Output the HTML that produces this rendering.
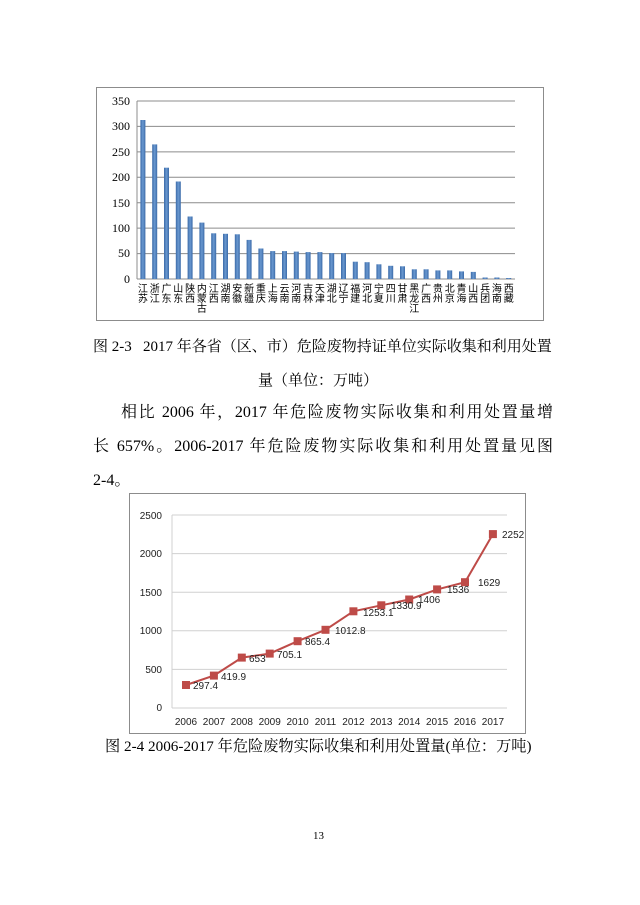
<!DOCTYPE html>
<html><head><meta charset="utf-8"><style>
body{margin:0;background:#fff;width:640px;height:905px;position:relative;overflow:hidden;font-family:"Liberation Serif","Noto Serif CJK SC","Noto Sans CJK SC",serif;color:#000}
.l{position:absolute;font-size:15px;white-space:nowrap;line-height:20px}
.j{text-align:justify;text-align-last:justify;white-space:normal;overflow:visible}
svg{position:absolute;left:0;top:0}
</style></head><body>
<svg width="640" height="905" xmlns="http://www.w3.org/2000/svg">
<defs><linearGradient id="g" x1="0" x2="1"><stop offset="0" stop-color="#3a6aa8"/><stop offset="0.5" stop-color="#6a98d0"/><stop offset="1" stop-color="#3a6aa8"/></linearGradient></defs>
<rect x="96.5" y="87.5" width="447" height="233" fill="#fff" stroke="#8c8c8c"/>
<g stroke="#8c8c8c" stroke-width="1">
<line x1="137" y1="101" x2="515" y2="101"/><line x1="137" y1="126.4" x2="515" y2="126.4"/><line x1="137" y1="151.9" x2="515" y2="151.9"/><line x1="137" y1="177.3" x2="515" y2="177.3"/><line x1="137" y1="202.7" x2="515" y2="202.7"/><line x1="137" y1="228.1" x2="515" y2="228.1"/><line x1="137" y1="253.6" x2="515" y2="253.6"/><line x1="137" y1="279" x2="515" y2="279"/>
<line x1="137" y1="101" x2="137" y2="279"/>
</g>
<g font-family="Liberation Serif" font-size="12" text-anchor="end" fill="#000">
<text x="130" y="105">350</text><text x="130" y="130">300</text><text x="130" y="156">250</text><text x="130" y="181">200</text><text x="130" y="207">150</text><text x="130" y="232">100</text><text x="130" y="257">50</text><text x="130" y="283">0</text>
</g>
<g fill="url(#g)">
<rect x="140.4" y="120" width="5" height="159"/><rect x="152.2" y="144.4" width="5" height="134.6"/><rect x="164" y="167.7" width="5" height="111.3"/><rect x="175.8" y="181.5" width="5" height="97.5"/><rect x="187.6" y="216.5" width="5" height="62.5"/><rect x="199.4" y="222.6" width="5" height="56.4"/><rect x="211.2" y="233.3" width="5" height="45.7"/><rect x="223" y="233.8" width="5" height="45.2"/><rect x="234.8" y="234.3" width="5" height="44.7"/><rect x="246.6" y="239.9" width="5" height="39.1"/><rect x="258.4" y="248.5" width="5" height="30.5"/><rect x="270.2" y="251.1" width="5" height="27.9"/><rect x="282" y="251.1" width="5" height="27.9"/><rect x="293.8" y="251.6" width="5" height="27.4"/><rect x="305.6" y="252.1" width="5" height="26.9"/><rect x="317.4" y="252.1" width="5" height="26.9"/><rect x="329.2" y="253.1" width="5" height="25.9"/><rect x="341" y="253.1" width="5" height="25.9"/><rect x="352.8" y="261.7" width="5" height="17.3"/><rect x="364.6" y="262.2" width="5" height="16.8"/><rect x="376.4" y="264.3" width="5" height="14.7"/><rect x="388.2" y="265.8" width="5" height="13.2"/><rect x="400" y="266.3" width="5" height="12.7"/><rect x="411.8" y="269.3" width="5" height="9.7"/><rect x="423.6" y="269.3" width="5" height="9.7"/><rect x="435.4" y="270.4" width="5" height="8.6"/><rect x="447.2" y="270.4" width="5" height="8.6"/><rect x="459" y="271.4" width="5" height="7.6"/><rect x="470.8" y="271.9" width="5" height="7.1"/><rect x="482.6" y="277.5" width="5" height="1.5"/><rect x="494.4" y="277.5" width="5" height="1.5"/><rect x="506.2" y="278" width="5" height="1"/>
</g>
<g font-family="Noto Sans CJK SC, sans-serif" font-size="10" text-anchor="middle" fill="#000">
<text x="142.9" y="292">江<tspan x="142.9" dy="10">苏</tspan></text>
<text x="154.7" y="292">浙<tspan x="154.7" dy="10">江</tspan></text>
<text x="166.5" y="292">广<tspan x="166.5" dy="10">东</tspan></text>
<text x="178.3" y="292">山<tspan x="178.3" dy="10">东</tspan></text>
<text x="190.1" y="292">陕<tspan x="190.1" dy="10">西</tspan></text>
<text x="201.9" y="292">内<tspan x="201.9" dy="10">蒙</tspan><tspan x="201.9" dy="10">古</tspan></text>
<text x="213.7" y="292">江<tspan x="213.7" dy="10">西</tspan></text>
<text x="225.5" y="292">湖<tspan x="225.5" dy="10">南</tspan></text>
<text x="237.3" y="292">安<tspan x="237.3" dy="10">徽</tspan></text>
<text x="249.1" y="292">新<tspan x="249.1" dy="10">疆</tspan></text>
<text x="260.9" y="292">重<tspan x="260.9" dy="10">庆</tspan></text>
<text x="272.7" y="292">上<tspan x="272.7" dy="10">海</tspan></text>
<text x="284.5" y="292">云<tspan x="284.5" dy="10">南</tspan></text>
<text x="296.3" y="292">河<tspan x="296.3" dy="10">南</tspan></text>
<text x="308.1" y="292">吉<tspan x="308.1" dy="10">林</tspan></text>
<text x="319.9" y="292">天<tspan x="319.9" dy="10">津</tspan></text>
<text x="331.7" y="292">湖<tspan x="331.7" dy="10">北</tspan></text>
<text x="343.5" y="292">辽<tspan x="343.5" dy="10">宁</tspan></text>
<text x="355.3" y="292">福<tspan x="355.3" dy="10">建</tspan></text>
<text x="367.1" y="292">河<tspan x="367.1" dy="10">北</tspan></text>
<text x="378.9" y="292">宁<tspan x="378.9" dy="10">夏</tspan></text>
<text x="390.7" y="292">四<tspan x="390.7" dy="10">川</tspan></text>
<text x="402.5" y="292">甘<tspan x="402.5" dy="10">肃</tspan></text>
<text x="414.3" y="292">黑<tspan x="414.3" dy="10">龙</tspan><tspan x="414.3" dy="10">江</tspan></text>
<text x="426.1" y="292">广<tspan x="426.1" dy="10">西</tspan></text>
<text x="437.9" y="292">贵<tspan x="437.9" dy="10">州</tspan></text>
<text x="449.7" y="292">北<tspan x="449.7" dy="10">京</tspan></text>
<text x="461.5" y="292">青<tspan x="461.5" dy="10">海</tspan></text>
<text x="473.3" y="292">山<tspan x="473.3" dy="10">西</tspan></text>
<text x="485.1" y="292">兵<tspan x="485.1" dy="10">团</tspan></text>
<text x="496.9" y="292">海<tspan x="496.9" dy="10">南</tspan></text>
<text x="508.7" y="292">西<tspan x="508.7" dy="10">藏</tspan></text>
</g>

<rect x="129.5" y="493.5" width="396" height="240" fill="#fff" stroke="#8c8c8c"/>
<g stroke="#d0d0d0" stroke-width="1">
<line x1="172" y1="515" x2="507" y2="515"/><line x1="172" y1="553.6" x2="507" y2="553.6"/><line x1="172" y1="592.2" x2="507" y2="592.2"/><line x1="172" y1="630.8" x2="507" y2="630.8"/><line x1="172" y1="669.4" x2="507" y2="669.4"/><line x1="172" y1="708" x2="507" y2="708"/>
<line x1="172" y1="515" x2="172" y2="708"/>
</g>
<g font-family="Liberation Sans, sans-serif" font-size="10" fill="#222">
<g text-anchor="end"><text x="162" y="519">2500</text><text x="162" y="557">2000</text><text x="162" y="596">1500</text><text x="162" y="634">1000</text><text x="162" y="673">500</text><text x="162" y="711">0</text></g>
<g text-anchor="middle"><text x="186" y="725">2006</text><text x="213.9" y="725">2007</text><text x="241.8" y="725">2008</text><text x="269.7" y="725">2009</text><text x="297.6" y="725">2010</text><text x="325.5" y="725">2011</text><text x="353.4" y="725">2012</text><text x="381.3" y="725">2013</text><text x="409.2" y="725">2014</text><text x="437.1" y="725">2015</text><text x="465" y="725">2016</text><text x="492.9" y="725">2017</text></g>
</g>
<polyline fill="none" stroke="#be4b48" stroke-width="2" points="186,685 213.9,675.6 241.8,657.6 269.7,653.6 297.6,641.2 325.5,629.8 353.4,611.3 381.3,605.3 409.2,599.5 437.1,589.4 465,582.2 492.9,534.1"/>
<g fill="#be4b48">
<rect x="182" y="681" width="8" height="8"/><rect x="209.9" y="671.6" width="8" height="8"/><rect x="237.8" y="653.6" width="8" height="8"/><rect x="265.7" y="649.6" width="8" height="8"/><rect x="293.6" y="637.2" width="8" height="8"/><rect x="321.5" y="625.8" width="8" height="8"/><rect x="349.4" y="607.3" width="8" height="8"/><rect x="377.3" y="601.3" width="8" height="8"/><rect x="405.2" y="595.5" width="8" height="8"/><rect x="433.1" y="585.4" width="8" height="8"/><rect x="461" y="578.2" width="8" height="8"/><rect x="488.9" y="530.1" width="8" height="8"/>
</g>
<g font-family="Liberation Sans, sans-serif" font-size="10" fill="#222">
<text x="193" y="689">297.4</text><text x="221" y="680">419.9</text><text x="249" y="662">653</text><text x="277" y="658">705.1</text><text x="305" y="645">865.4</text><text x="335" y="634">1012.8</text><text x="363" y="616">1253.1</text><text x="391" y="609">1330.9</text><text x="418" y="603">1406</text><text x="447" y="593">1536</text><text x="478" y="586">1629</text><text x="502" y="538">2252</text>
</g>
</svg>
<div class="l" style="left:93px;top:337px;font-size:15px">图 2-3&nbsp;&nbsp; 2017 年各省（区、市）危险废物持证单位实际收集和利用处置</div>
<div class="l" style="left:258px;top:371px">量（单位：万吨）</div>
<div class="l j" style="left:121px;top:403px;width:432px;font-size:16px">相比 2006 年，2017 年危险废物实际收集和利用处置量增</div>
<div class="l j" style="left:93px;top:437px;width:460px;font-size:16px">长 657%。2006-2017 年危险废物实际收集和利用处置量见图</div>
<div class="l" style="left:93px;top:471px;font-size:16px">2-4。</div>
<div class="l" style="left:105px;top:737px;font-size:15.2px">图 2-4 2006-2017 年危险废物实际收集和利用处置量(单位：万吨)</div>
<div class="l" style="left:313px;top:826px;font-size:11px">13</div>
</body></html>
